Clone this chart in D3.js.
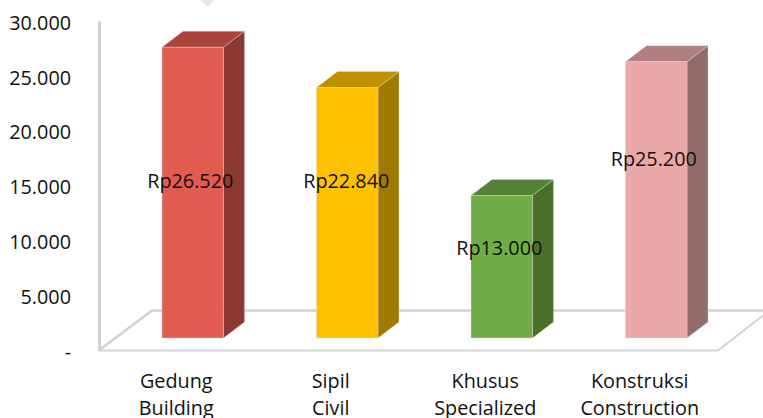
<!DOCTYPE html>
<html>
<head>
<meta charset="utf-8">
<script src="https://d3js.org/d3.v7.min.js"></script>
<style>
html, body { margin: 0; padding: 0; background: #fff; }
svg { display: block; }
text { font-family: "Open Sans", sans-serif; fill: #111; }
</style>
</head>
<body>
<svg class="chart" width="763" height="418"></svg>
<script>
const categories = ["Gedung", "Sipil", "Khusus", "Konstruksi"];
const categoriesEn = ["Building", "Civil", "Specialized", "Construction"];
const values = [26520, 22840, 13000, 25200];
const tickValues = [0, 5000, 10000, 15000, 20000, 25000, 30000];
const frontColors = ["#e15b50", "#ffc000", "#70ad47", "#eba8a8"];
const topColors = ["#aa443d", "#bf9000", "#548235", "#b07f7f"];
const sideColors = ["#8b3833", "#a07a00", "#4a6f2b", "#946b6b"];

// the labels sit where they were dragged to in the original, not on the bar centre
const labelYs = [181, 180.5, 248, 159];
const labelShifts = [-2.5, -1, -2.5, -2.5];
const catShift = -16.5;

const depthX = 21, depthY = 16;
const axisColor = "#d2d2d2";

const idLocale = d3.formatLocale({ decimal: ",", thousands: ".", grouping: [3], currency: ["Rp", ""] });
const tickFmt = d => d === 0 ? "-" : idLocale.format(",")(d);
const labelFmt = idLocale.format("$,");

const x = d3.scaleBand().domain(categories).range([162, 687]).paddingInner(0.602).paddingOuter(0);
const y = d3.scaleLinear().domain([0, 30000]).range([338, 9]);

const svg = d3.select(".chart");

// little bit of another shape cut off at the top edge
svg.append("polygon")
  .attr("points", "200,0 208,7 214,0")
  .attr("fill", "#e6e6e6");

// floor
const floor = svg.append("g").attr("fill", "none").attr("stroke", axisColor).attr("stroke-width", 2.5);
floor.append("path").attr("d", "M100,349.5L152,310.5H763");
floor.append("path").attr("d", "M99,350.5H718L763,315.5").attr("stroke-width", 2);

// value axis
const axis = svg.append("g")
  .attr("transform", "translate(99,12)")
  .call(d3.axisLeft(y).tickValues(tickValues).tickFormat(tickFmt).tickSize(0).tickPadding(28));
axis.select(".domain").attr("stroke", axisColor).attr("stroke-width", 3);
axis.selectAll("text").attr("font-size", 19.8).attr("dy", "0.42em");
axis.attr("font-family", null);

// bars
const bars = svg.append("g").selectAll("g")
  .data(categories)
  .enter().append("g");

bars.append("path")
  .attr("fill", (d, i) => sideColors[i])
  .attr("stroke", "#d9d9d9").attr("stroke-width", 0.4)
  .attr("d", (d, i) => {
    const r = x(d) + x.bandwidth(), t = y(values[i]), b = y(0);
    return `M${r},${t}L${r + depthX},${t - depthY}V${b - depthY}L${r},${b}Z`;
  });

bars.append("path")
  .attr("fill", (d, i) => topColors[i])
  .attr("stroke", "#d9d9d9").attr("stroke-width", 0.4)
  .attr("d", (d, i) => {
    const l = x(d), r = l + x.bandwidth(), t = y(values[i]);
    return `M${l},${t}L${l + depthX},${t - depthY}H${r + depthX}L${r},${t}Z`;
  });

bars.append("rect")
  .attr("x", d => x(d))
  .attr("y", (d, i) => y(values[i]))
  .attr("width", x.bandwidth())
  .attr("height", (d, i) => y(0) - y(values[i]))
  .attr("fill", (d, i) => frontColors[i])
  .attr("stroke", "#d9d9d9").attr("stroke-width", 0.4);

// data labels
svg.append("g").selectAll("text")
  .data(categories)
  .enter().append("text")
  .attr("x", (d, i) => x(d) + x.bandwidth() / 2 + labelShifts[i])
  .attr("y", (d, i) => labelYs[i])
  .attr("dy", "0.36em")
  .attr("text-anchor", "middle")
  .attr("font-size", 19.8)
  .text((d, i) => labelFmt(values[i]));

// category labels, two languages
const cats = svg.append("g").selectAll("text")
  .data(categories)
  .enter().append("text")
  .attr("text-anchor", "middle")
  .attr("font-size", 19.8)
  .attr("y", 388);
cats.append("tspan")
  .attr("x", d => x(d) + x.bandwidth() / 2 + catShift)
  .text(d => d);
cats.append("tspan")
  .attr("x", d => x(d) + x.bandwidth() / 2 + catShift)
  .attr("dy", 27)
  .text((d, i) => categoriesEn[i]);
</script>
</body>
</html>
